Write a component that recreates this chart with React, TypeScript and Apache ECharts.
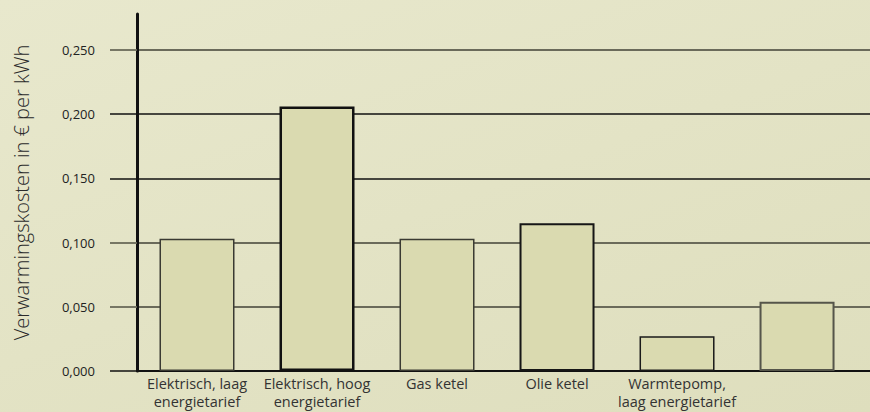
import React, { useEffect, useRef } from "react";
import * as echarts from "echarts";

const categories = [
  "Elektrisch, laag\nenergietarief",
  "Elektrisch, hoog\nenergietarief",
  "Gas ketel",
  "Olie ketel",
  "Warmtepomp,\nlaag energietarief",
  "",
];
const costs = [0.103, 0.206, 0.103, 0.115, 0.027, 0.054];
const yTicks = [0, 0.05, 0.1, 0.15, 0.2, 0.25];
const yTicksDark = [0, 0.15, 0.2];
const yTicksGray = [0.05, 0.1, 0.25];
const yTitle = "Verwarmingskosten in € per kWh";

// styling per bar (kept apart from data)
const barBorderColors = ["#3a3a32", "#111111", "#3a3a32", "#161616", "#1a1a1a", "#55554a"];
const barBorderWidths = [1.5, 2.5, 1.5, 2, 1.5, 2];

const fmt = (v: number) => v.toFixed(3).replace(".", ",");

export default function App() {
  const ref = useRef<HTMLDivElement>(null);
  useEffect(() => {
    if (!ref.current) return;
    const chart = echarts.init(ref.current, null, { renderer: "svg" });
    const yMax = 0.278;
    const option: any = {
      animation: false,
      backgroundColor: "transparent",
      grid: {
        left: 137,
        right: 0,
        top: 14,
        bottom: 41,
        containLabel: false,
        outerBoundsMode: "none",
      },
      xAxis: {
        type: "value",
        min: -0.5,
        max: 5.608,
        splitLine: { show: false },
        axisTick: { show: false },
        axisLine: { show: true, onZero: false, lineStyle: { color: "#111", width: 2 } },
        axisLabel: {
          customValues: categories.map((_, i) => i),
          margin: 3,
          color: "#333",
          fontFamily: "Open Sans",
          fontSize: 14.5,
          lineHeight: 18,
          formatter: (v: number) =>
            Number.isInteger(v) && v >= 0 && v < categories.length ? categories[v] : "",
        },
      },
      yAxis: [
        {
          type: "value",
          position: "left",
          min: 0,
          max: yMax,
          interval: 0.05,
          name: yTitle,
          nameLocation: "middle",
          nameRotate: 90,
          nameGap: 106,
          nameTextStyle: {
            fontFamily: "Open Sans",
            fontSize: 20,
            fontWeight: 300,
            color: "#2a2a2a",
          },
          axisLine: { show: true, onZero: false, lineStyle: { color: "#111", width: 3 } },
          axisTick: {
            show: true,
            length: 27,
            customValues: yTicksDark,
            lineStyle: { color: "#111", width: 1.5 },
          },
          axisLabel: {
            customValues: yTicks,
            margin: 42,
            color: "#222",
            fontFamily: "Open Sans",
            fontSize: 13,
            formatter: (v: number) => fmt(v),
          },
          splitLine: {
            show: true,
            lineStyle: { color: "#111", width: 1.5 },
          },
        },
        {
          type: "value",
          position: "left",
          min: 0,
          max: yMax,
          interval: 0.05,
          axisLine: { show: false, onZero: false },
          axisTick: {
            show: true,
            length: 27,
            customValues: yTicksGray,
            lineStyle: { color: "#6a6a5a", width: 1.8 },
          },
          axisLabel: { show: false },
          splitLine: {
            show: true,
            lineStyle: { color: "#6a6a5a", width: 1.8 },
          },
        },
      ],
      series: [
        {
          type: "bar",
          xAxisIndex: 0,
          yAxisIndex: 0,
          barWidth: 75,
          data: costs.map((c, i) => ({
            value: [i, c],
            itemStyle: {
              color: "#dadab0",
              borderColor: barBorderColors[i],
              borderWidth: barBorderWidths[i],
            },
          })),
        },
      ],
    };
    chart.setOption(option);
    return () => chart.dispose();
  }, []);
  return (
    <div
      style={{
        position: "absolute",
        left: 0,
        top: 0,
        width: 870,
        height: 412,
        background: "linear-gradient(160deg, #e8e8cd 0%, #e3e3c5 50%, #dedebd 100%)",
      }}
    >
      <div ref={ref} style={{ width: 870, height: 412 }} />
    </div>
  );
}
